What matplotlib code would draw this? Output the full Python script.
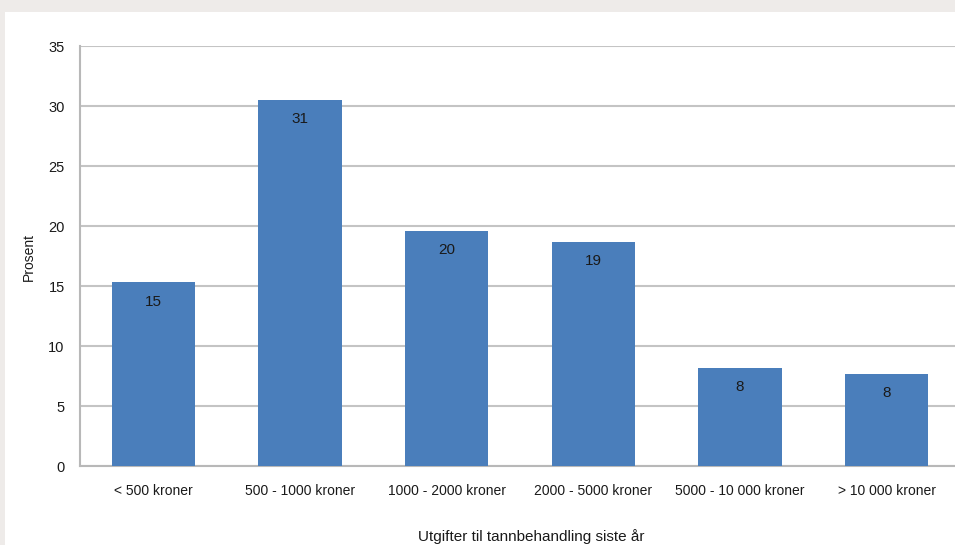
import matplotlib.pyplot as plt
from matplotlib.patches import Rectangle

plt.rcParams['font.family'] = ['Liberation Sans', 'DejaVu Sans']

# data
categories = ['< 500 kroner', '500 - 1000 kroner', '1000 - 2000 kroner',
              '2000 - 5000 kroner', '5000 - 10 000 kroner', '> 10 000 kroner']
values = [15.3, 30.5, 19.6, 18.7, 8.2, 7.7]
value_labels = ['15', '31', '20', '19', '8', '8']
yticks = [0, 5, 10, 15, 20, 25, 30, 35]

W, H = 955, 545
fig = plt.figure(figsize=(W / 100, H / 100), dpi=100)
fig.patch.set_facecolor('#eeebe9')

# white panel
fig.patches.append(Rectangle((5 / W, 0), 1, 1 - 12 / H, transform=fig.transFigure,
                             facecolor='white', edgecolor='none', zorder=-1))

# axes box: left 80px, right ~960px (cut off), top 46px, bottom 466px
ax = fig.add_axes([80 / W, 1 - 466 / H, 880 / W, 420 / H])
ax.set_facecolor('none')

x = range(len(categories))
bars = ax.bar(x, values, width=0.57, color='#4a7ebb', zorder=3)

for i, (v, lab) in enumerate(zip(values, value_labels)):
    ax.annotate(lab, (i, v), xytext=(0, -14), textcoords='offset points',
                ha='center', va='center', fontsize=11, color='#1a1a1a', zorder=4)

ax.set_xlim(-0.5, len(categories) - 0.5)
ax.set_ylim(0, 35)
ax.set_yticks(yticks)
ax.set_xticks(list(x))
ax.set_xticklabels(categories)
ax.tick_params(axis='both', length=0, colors='#1a1a1a')
ax.tick_params(axis='y', pad=11, labelsize=10.5)
ax.tick_params(axis='x', pad=13, labelsize=10)
ax.grid(axis='y', color='#c4c4c4', linewidth=1.5, zorder=1)

for s in ['top', 'right']:
    ax.spines[s].set_visible(False)
for s in ['left', 'bottom']:
    ax.spines[s].set_color('#b8b8b8')
    ax.spines[s].set_linewidth(1.5)

fig.text(29 / W, 1 - 257 / H, 'Prosent', rotation=90, ha='center', va='center',
         fontsize=10, color='#1a1a1a')
fig.text(531 / W, 1 - 537 / H, 'Utgifter til tannbehandling siste år', ha='center',
         va='center', fontsize=11, color='#1a1a1a')

plt.savefig('out.png', dpi=100, facecolor=fig.get_facecolor())
